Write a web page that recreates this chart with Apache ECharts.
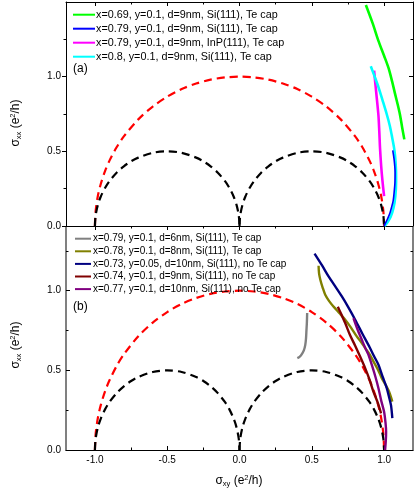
<!DOCTYPE html>
<html><head><meta charset="utf-8">
<script src="https://cdn.jsdelivr.net/npm/echarts@6/dist/echarts.min.js"></script>
<style>html,body{margin:0;padding:0;background:#fff}#c{width:415px;height:492px}</style>
</head><body><div id="c"></div>
<script>
// ---- tick values ----
const xMajorTicks = [-1, -0.5, 0, 0.5, 1];
const xMinorTicks = [-0.75, -0.25, 0.25, 0.75];
const yMajorTicks = [0, 0.5, 1];
const yMinorTicks = [0.25, 0.75, 1.25];

// ---- reference arcs ----
const redArc = [[-1,0],[-0.995,0.1],[-0.98,0.199],[-0.96,0.28],[-0.93,0.368],[-0.9,0.436],[-0.85,0.527],[-0.8,0.6],[-0.7,0.714],[-0.6,0.8],[-0.5,0.866],[-0.4,0.917],[-0.3,0.954],[-0.2,0.98],[-0.1,0.995],[0,1],[0.1,0.995],[0.2,0.98],[0.3,0.954],[0.4,0.917],[0.5,0.866],[0.6,0.8],[0.7,0.714],[0.8,0.6],[0.85,0.527],[0.9,0.436],[0.93,0.368],[0.96,0.28],[0.98,0.199],[0.995,0.1],[1,0]];
const blackArcLeft = [[-1,0],[-0.995,0.07],[-0.98,0.14],[-0.96,0.196],[-0.93,0.255],[-0.9,0.3],[-0.85,0.357],[-0.8,0.4],[-0.75,0.433],[-0.7,0.458],[-0.6,0.49],[-0.5,0.5],[-0.4,0.49],[-0.3,0.458],[-0.25,0.433],[-0.2,0.4],[-0.15,0.357],[-0.1,0.3],[-0.07,0.255],[-0.04,0.196],[-0.02,0.14],[-0.005,0.07],[0,0]];
const blackArcRight = [[0,0],[0.005,0.07],[0.02,0.14],[0.04,0.196],[0.07,0.255],[0.1,0.3],[0.15,0.357],[0.2,0.4],[0.25,0.433],[0.3,0.458],[0.4,0.49],[0.5,0.5],[0.6,0.49],[0.7,0.458],[0.75,0.433],[0.8,0.4],[0.85,0.357],[0.9,0.3],[0.93,0.255],[0.96,0.196],[0.98,0.14],[0.995,0.07],[1,0]];

// ---- panel (a) ----
const namesA = ['x=0.69, y=0.1, d=9nm, Si(111), Te cap','x=0.79, y=0.1, d=9nm, Si(111), Te cap','x=0.79, y=0.1, d=9nm, InP(111), Te cap','x=0.8, y=0.1, d=9nm, Si(111), Te cap'];
const greenA = [[0.874,1.48],[0.92,1.36],[0.961,1.24],[1.0,1.14],[1.03,1.06],[1.055,0.97],[1.076,0.885],[1.095,0.81],[1.11,0.745],[1.125,0.66],[1.14,0.58]];
const blueA = [[1.06,0.507],[1.07,0.44],[1.076,0.36],[1.075,0.29],[1.07,0.23],[1.063,0.17],[1.053,0.13],[1.04,0.085],[1.025,0.05],[1.01,0.02],[1.0,0.0]];
const magentaA = [[0.931,1.04],[0.945,0.9],[0.961,0.74],[0.967,0.63],[0.972,0.52],[0.98,0.4],[0.989,0.3],[1.0,0.2]];
const cyanA = [[0.908,1.07],[0.935,1.0],[0.961,0.93],[0.99,0.84],[1.018,0.75],[1.04,0.67],[1.053,0.607],[1.068,0.53],[1.076,0.47],[1.082,0.38],[1.083,0.3],[1.078,0.2],[1.065,0.12],[1.045,0.06],[1.02,0.02],[1.003,0.0]];

// ---- panel (b) ----
const namesB = ['x=0.79, y=0.1, d=6nm, Si(111), Te cap','x=0.78, y=0.1, d=8nm, Si(111), Te cap','x=0.73, y=0.05, d=10nm, Si(111), no Te cap','x=0.74, y=0.1, d=9nm, Si(111), no Te cap','x=0.77, y=0.1, d=10nm, Si(111), no Te cap'];
const grayB = [[0.40,0.577],[0.415,0.585],[0.43,0.6],[0.445,0.625],[0.455,0.66],[0.46,0.7],[0.463,0.75],[0.466,0.8],[0.468,0.86]];
const oliveB = [[0.547,1.157],[0.55,1.11],[0.559,1.069],[0.575,1.02],[0.593,0.975],[0.62,0.935],[0.651,0.9],[0.69,0.86],[0.731,0.818],[0.77,0.77],[0.811,0.713],[0.84,0.68],[0.869,0.64],[0.9,0.6],[0.93,0.55],[0.96,0.5],[0.984,0.451],[1.01,0.41],[1.034,0.367],[1.057,0.304]];
const navyB = [[0.519,1.233],[0.57,1.16],[0.616,1.09],[0.66,1.03],[0.708,0.964],[0.75,0.9],[0.8,0.818],[0.85,0.73],[0.9,0.645],[0.93,0.59],[0.961,0.535],[0.99,0.46],[1.018,0.39],[1.035,0.33],[1.048,0.28],[1.057,0.2]];
const darkRedB = [[0.68,0.9],[0.705,0.85],[0.731,0.797],[0.765,0.72],[0.8,0.655],[0.835,0.585],[0.869,0.514],[0.9,0.44],[0.926,0.367],[0.955,0.3],[0.979,0.23]];
const purpleB = [[0.788,0.828],[0.815,0.76],[0.846,0.692],[0.87,0.64],[0.892,0.597],[0.92,0.52],[0.94,0.46],[0.961,0.388],[0.98,0.31],[1.0,0.24],[1.01,0.17],[1.014,0.115],[1.012,0.06],[1.007,0.0]];

const FONT = '"Liberation Sans", Arial, sans-serif';
const chart = echarts.init(document.getElementById('c'), null, {renderer: 'canvas'});

function xAx(grid, pos, values, len, inside, labels, line) {
  return {type: 'value', gridIndex: grid, position: pos, min: -1.2, max: 1.2,
    axisLine: {show: !!line, onZero: false, lineStyle: line || {}},
    axisTick: {show: true, inside: inside, length: len, customValues: values, lineStyle: {color: '#000', width: 1}},
    axisLabel: {show: labels, customValues: values, fontSize: 10, fontFamily: FONT, color: '#000', margin: 5,
      formatter: v => Number(v).toFixed(1)},
    splitLine: {show: false}, minorTick: {show: false}};
}
function yAx(grid, pos, values, len, inside, labels, line, ymax) {
  return {type: 'value', gridIndex: grid, position: pos, min: 0, max: ymax,
    axisLine: {show: !!line, onZero: false, lineStyle: line || {}},
    axisTick: {show: true, inside: inside, length: len, customValues: values, lineStyle: {color: '#000', width: 1}},
    axisLabel: {show: labels, customValues: values, fontSize: 10, fontFamily: FONT, color: '#000', margin: 5,
      formatter: v => Number(v).toFixed(1)},
    splitLine: {show: false}, minorTick: {show: false}};
}
const blackLine = {color: '#000', width: 1};
const greyLine = {color: '#808080', width: 2};

function dashed(data, color, xi, yi) {
  return {type: 'line', data: data, xAxisIndex: xi, yAxisIndex: yi, symbol: 'none', smooth: 0.3,
    lineStyle: {color: color, width: 2.2, type: [8, 5]}, silent: true, z: 2};
}
function curve(name, data, color, width, xi, yi) {
  return {type: 'line', name: name, data: data, xAxisIndex: xi, yAxisIndex: yi, symbol: 'none', showSymbol: false,
    smooth: 0.3, color: color, lineStyle: {color: color, width: width}, itemStyle: {opacity: 0}, z: 3};
}

const titleRich = {
  g: {fontSize: 12, fontFamily: FONT, color: '#000'},
  s: {fontSize: 7.5, fontFamily: FONT, color: '#000', verticalAlign: 'bottom', padding: [6, 0, 0, 0]},
  p: {fontSize: 7.5, fontFamily: FONT, color: '#000', verticalAlign: 'top', padding: [0, 0, 6, 0]}
};

chart.setOption({
  animation: false,
  backgroundColor: '#fff',
  grid: [
    {left: 66, top: 2, width: 347, height: 224},
    {left: 66, top: 227, width: 347, height: 223}
  ],
  xAxis: [
    xAx(0, 'bottom', xMajorTicks, 4, false, false, blackLine),
    xAx(0, 'bottom', xMinorTicks, 2.5, false, false, null),
    xAx(0, 'top', xMajorTicks, 4, true, false, blackLine),
    xAx(0, 'top', xMinorTicks, 2.5, true, false, null),
    xAx(1, 'bottom', xMajorTicks, 4, true, true, blackLine),
    xAx(1, 'bottom', xMinorTicks, 2.5, true, false, null)
  ],
  yAxis: [
    yAx(0, 'left', yMajorTicks, 4, false, true, blackLine, 1.5),
    yAx(0, 'left', yMinorTicks, 2.5, false, false, null, 1.5),
    yAx(0, 'right', yMajorTicks, 4, true, false, blackLine, 1.5),
    yAx(0, 'right', yMinorTicks, 2.5, true, false, null, 1.5),
    yAx(1, 'left', yMajorTicks, 4, true, true, greyLine, 1.4),
    yAx(1, 'left', yMinorTicks, 2.5, true, false, null, 1.4),
    yAx(1, 'right', yMajorTicks, 4, true, false, greyLine, 1.4),
    yAx(1, 'right', yMinorTicks, 2.5, true, false, null, 1.4)
  ],
  legend: [
    {orient: 'vertical', left: 72, top: 8.7, padding: 0, itemWidth: 22, itemHeight: 12, itemGap: 2, data: namesA,
      selectedMode: false, lineStyle: {width: 2}, itemStyle: {opacity: 0},
      textStyle: {fontSize: 10.8, fontFamily: FONT, color: '#000', lineHeight: 12, padding: [0, 0, 0, -4]}},
    {orient: 'vertical', left: 74, top: 233.2, padding: 0, itemWidth: 16, itemHeight: 11, itemGap: 1.6, data: namesB,
      selectedMode: false, lineStyle: {width: 2}, itemStyle: {opacity: 0},
      textStyle: {fontSize: 10, fontFamily: FONT, color: '#000', lineHeight: 11, padding: [0, 0, 0, -3]}}
  ],
  series: [
    dashed(redArc, '#ff0000', 0, 0),
    dashed(blackArcLeft, '#000000', 0, 0),
    dashed(blackArcRight, '#000000', 0, 0),
    curve(namesA[0], greenA, '#00ff00', 2.6, 0, 0),
    curve(namesA[2], magentaA, '#ff00ff', 2.6, 0, 0),
    curve(namesA[3], cyanA, '#00ffff', 2.6, 0, 0),
    curve(namesA[1], blueA, '#0000ff', 1.6, 0, 0),
    dashed(redArc, '#ff0000', 4, 4),
    dashed(blackArcLeft, '#000000', 4, 4),
    dashed(blackArcRight, '#000000', 4, 4),
    curve(namesB[0], grayB, '#808080', 2.4, 4, 4),
    curve(namesB[1], oliveB, '#808000', 2.4, 4, 4),
    curve(namesB[2], navyB, '#000080', 2.4, 4, 4),
    curve(namesB[3], darkRedB, '#800000', 2.4, 4, 4),
    curve(namesB[4], purpleB, '#800080', 2.4, 4, 4)
  ],
  graphic: [
    {type: 'text', left: 73, top: 63, style: {text: '(a)', fontSize: 12, fontFamily: FONT, fill: '#000'}},
    {type: 'text', left: 73, top: 301, style: {text: '(b)', fontSize: 12, fontFamily: FONT, fill: '#000'}},
    {type: 'text', x: 16, y: 123, rotation: Math.PI / 2,
      style: {text: '{g|σ}{s|xx}{g| (e}{p|2}{g|/h)}', rich: titleRich, align: 'center', verticalAlign: 'middle'}},
    {type: 'text', x: 16, y: 345, rotation: Math.PI / 2,
      style: {text: '{g|σ}{s|xx}{g| (e}{p|2}{g|/h)}', rich: titleRich, align: 'center', verticalAlign: 'middle'}},
    {type: 'text', x: 239, y: 481,
      style: {text: '{g|σ}{s|xy}{g| (e}{p|2}{g|/h)}', rich: titleRich, align: 'center', verticalAlign: 'middle'}}
  ]
});
</script>
</body></html>
